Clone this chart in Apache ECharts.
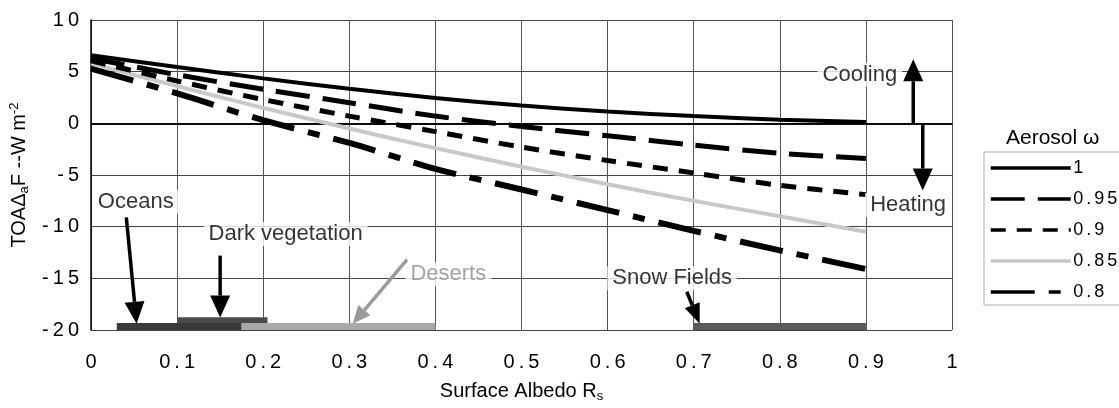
<!DOCTYPE html>
<html>
<head>
<meta charset="utf-8">
<script src="https://cdn.jsdelivr.net/npm/echarts@6/dist/echarts.min.js"></script>
<style>
  html, body { margin: 0; padding: 0; background: #fff; }
  #chart { width: 1119px; height: 408px; }
</style>
</head>
<body>
<div id="chart"></div>
<script>
// albedo values where the curves were read
const albedo = [0, 0.1, 0.2, 0.3, 0.4, 0.5, 0.6, 0.7, 0.8, 0.9];

// TOA forcing (W m-2) for each aerosol single scattering albedo
const omega100 = [6.6, 5.45, 4.35, 3.35, 2.45, 1.72, 1.15, 0.7, 0.35, 0.12];
const omega095 = [6.3, 4.7, 3.3, 2.0, 0.7, -0.3, -1.2, -2.1, -2.9, -3.4];
const omega090 = [6.05, 4.1, 2.3, 0.7, -0.8, -2.3, -3.6, -4.8, -6.0, -6.9];
const omega085 = [5.8, 3.6, 1.5, -0.5, -2.4, -4.2, -5.9, -7.5, -9.0, -10.5];
const omega080 = [5.3, 2.9, 0.3, -1.9, -4.4, -6.4, -8.4, -10.4, -12.3, -14.1];

const seriesNames = ['1', '0.95', '0.9', '0.85', '0.8'];

// surface albedo ranges drawn as bands at the bottom
const surfNames = ['Oceans', 'Dark vegetation', 'Deserts', 'Snow Fields'];
const surfFrom = [0.03, 0.1, 0.175, 0.7];
const surfTo = [0.175, 0.205, 0.4, 0.9];
const surfLevel = [-19.65, -19.05, -19.65, -19.65];

// annotation texts and where they sit
const noteText = ['Oceans', 'Dark vegetation', 'Deserts', 'Snow Fields', 'Cooling', 'Heating'];
const noteX = [0.052, 0.226, 0.415, 0.675, 0.893, 0.949];
const noteY = [-7.6, -10.7, -14.6, -15.0, 4.7, -7.9];

// arrows: start and tip
const arrowFrom = [[0.041, -9.1], [0.15, -12.8], [0.367, -13.2], [0.692, -16.3], [0.955, 0], [0.966, 0]];
const arrowTo = [[0.053, -19.4], [0.15, -18.8], [0.304, -19.4], [0.707, -19.4], [0.955, 6.2], [0.966, -6.5]];

const xTicks = ['0', '0.1', '0.2', '0.3', '0.4', '0.5', '0.6', '0.7', '0.8', '0.9', '1'];

const chart = echarts.init(document.getElementById('chart'));

const font = 'Liberation Sans, Arial, sans-serif';
const surfColors = ['#3a3a3a', '#4a4a4a', '#a9a9a9', '#5a5a5a'];
const arrowColors = ['#000', '#000', '#9a9a9a', '#000', '#000', '#000'];
const arrowHead = [[22, 10], [22, 10], [18, 8], [20, 8], [22, 10], [22, 10]];

// spread characters a bit, like the scanned figure
const spaced = (s) => s.split('').map(c => '{c|' + c + '}').join('');

function toPairs(ys) {
  return albedo.map((x, i) => [x, ys[i]]);
}

const curveStyles = [
  { color: '#000', width: 4, type: 'solid' },
  { color: '#000', width: 5, type: [34, 13] },
  { color: '#000', width: 5, type: [15, 11] },
  { color: '#c8c8c8', width: 4, type: 'solid' },
  { color: '#000', width: 6, type: [44, 14, 12, 14] }
];
const curveData = [omega100, omega095, omega090, omega085, omega080];

const series = curveData.map((ys, i) => ({
  name: seriesNames[i],
  type: 'line',
  data: toPairs(ys),
  showSymbol: false,
  symbol: 'none',
  smooth: 0.3,
  lineStyle: curveStyles[i],
  itemStyle: { color: curveStyles[i].color },
  z: 5 - i + 3
}));

surfNames.forEach((name, i) => {
  series.push({
    name: name + ' band',
    type: 'line',
    data: [[surfFrom[i], surfLevel[i]], [surfTo[i], surfLevel[i]]],
    symbol: 'none',
    silent: true,
    lineStyle: { color: surfColors[i], width: i === 1 ? 6 : 7, cap: 'butt' },
    z: i === 1 ? 2 : 3
  });
});

series.push({
  name: 'arrows',
  type: 'custom',
  silent: true,
  z: 9,
  data: arrowFrom.map((p, i) => [p[0], p[1], arrowTo[i][0], arrowTo[i][1], i]),
  renderItem: function (params, api) {
    const i = api.value(4);
    const a = api.coord([api.value(0), api.value(1)]);
    const b = api.coord([api.value(2), api.value(3)]);
    const dx = b[0] - a[0], dy = b[1] - a[1];
    const len = Math.sqrt(dx * dx + dy * dy);
    const ux = dx / len, uy = dy / len;
    const L = arrowHead[i][0], W = arrowHead[i][1];
    const bx = b[0] - ux * L, by = b[1] - uy * L;
    const color = arrowColors[i];
    return {
      type: 'group',
      children: [
        { type: 'line', shape: { x1: a[0], y1: a[1], x2: bx, y2: by }, style: { stroke: color, lineWidth: 3.5 } },
        { type: 'polygon', shape: { points: [[b[0], b[1]], [bx - uy * W, by + ux * W], [bx + uy * W, by - ux * W]] }, style: { fill: color } }
      ]
    };
  }
});

series.push({
  name: 'notes',
  type: 'scatter',
  symbolSize: 1,
  silent: true,
  itemStyle: { color: 'rgba(0,0,0,0)' },
  z: 8,
  data: noteText.map((t, i) => ({
    name: t,
    value: [noteX[i], noteY[i]],
    label: { color: t === 'Deserts' ? '#8c8c8c' : '#000' }
  })),
  label: {
    show: true,
    position: 'inside',
    formatter: (p) => p.name,
    fontFamily: font,
    fontSize: 22,
    backgroundColor: '#fff',
    padding: [1, 5]
  },
  markLine: {
    silent: true,
    symbol: 'none',
    label: { show: false },
    lineStyle: { color: '#000', width: 1.5, type: 'solid' },
    data: [{ yAxis: 0 }]
  }
});

const option = {
  animation: false,
  backgroundColor: '#fff',
  textStyle: { fontFamily: font },
  title: {
    text: 'Aerosol ω',
    left: 1001,
    top: 123,
    textStyle: { fontFamily: font, fontSize: 21, fontWeight: 'normal', color: '#000' }
  },
  grid: { left: 91, right: 167, top: 20, bottom: 74 },
  legend: {
    data: seriesNames,
    orient: 'vertical',
    left: 984,
    top: 152,
    padding: [7, 40, 4, 5],
    borderColor: '#aaa',
    borderWidth: 1,
    itemWidth: 80,
    itemHeight: 12,
    itemGap: 13,
    selectedMode: false,
    itemStyle: { opacity: 0 },
    lineStyle: { width: 3.5 },
    formatter: (n) => spaced(n),
    textStyle: {
      fontFamily: font,
      fontSize: 18,
      color: '#000',
      padding: [0, 0, 0, -4],
      rich: { c: { fontFamily: font, fontSize: 18, color: '#000', padding: [0, 1.5, 0, 1.5] } }
    }
  },
  xAxis: {
    type: 'value',
    min: 0,
    max: 1,
    interval: 0.1,
    name: '{t|Surface Albedo R}{s|s}',
    nameLocation: 'middle',
    nameGap: 50,
    nameTextStyle: {
      rich: {
        t: { fontFamily: font, fontSize: 20, color: '#000' },
        s: { fontFamily: font, fontSize: 13, color: '#000', padding: [10, 0, 0, 0] }
      }
    },
    axisLine: { show: true, lineStyle: { color: '#000', width: 1.5 } },
    axisTick: { show: false },
    splitLine: { show: true, lineStyle: { color: '#555', width: 1 } },
    axisLabel: {
      margin: 22,
      formatter: (v) => spaced(xTicks[Math.round(v * 10)]),
      rich: { c: { fontFamily: font, fontSize: 20, color: '#000', padding: [0, 2, 0, 2] } }
    }
  },
  yAxis: {
    type: 'value',
    min: -20,
    max: 10,
    interval: 5,
    name: '{t|TOAΔ}{s|a}{t|F --W m}{p|-2}',
    nameLocation: 'middle',
    nameGap: 56,
    nameRotate: 90,
    nameTextStyle: {
      rich: {
        t: { fontFamily: font, fontSize: 20, color: '#000' },
        s: { fontFamily: font, fontSize: 13, color: '#000', padding: [10, 0, 0, 0] },
        p: { fontFamily: font, fontSize: 13, color: '#000', padding: [0, 0, 10, 0] }
      }
    },
    axisLine: { show: true, lineStyle: { color: '#000', width: 1.5 } },
    axisTick: { show: false },
    splitLine: { show: true, lineStyle: { color: '#444', width: 1 } },
    axisLabel: {
      margin: 10,
      formatter: (v) => spaced(String(v)),
      rich: { c: { fontFamily: font, fontSize: 20, color: '#000', padding: [0, 2, 0, 2] } }
    }
  },
  series: series
};

chart.setOption(option);
</script>
</body>
</html>
